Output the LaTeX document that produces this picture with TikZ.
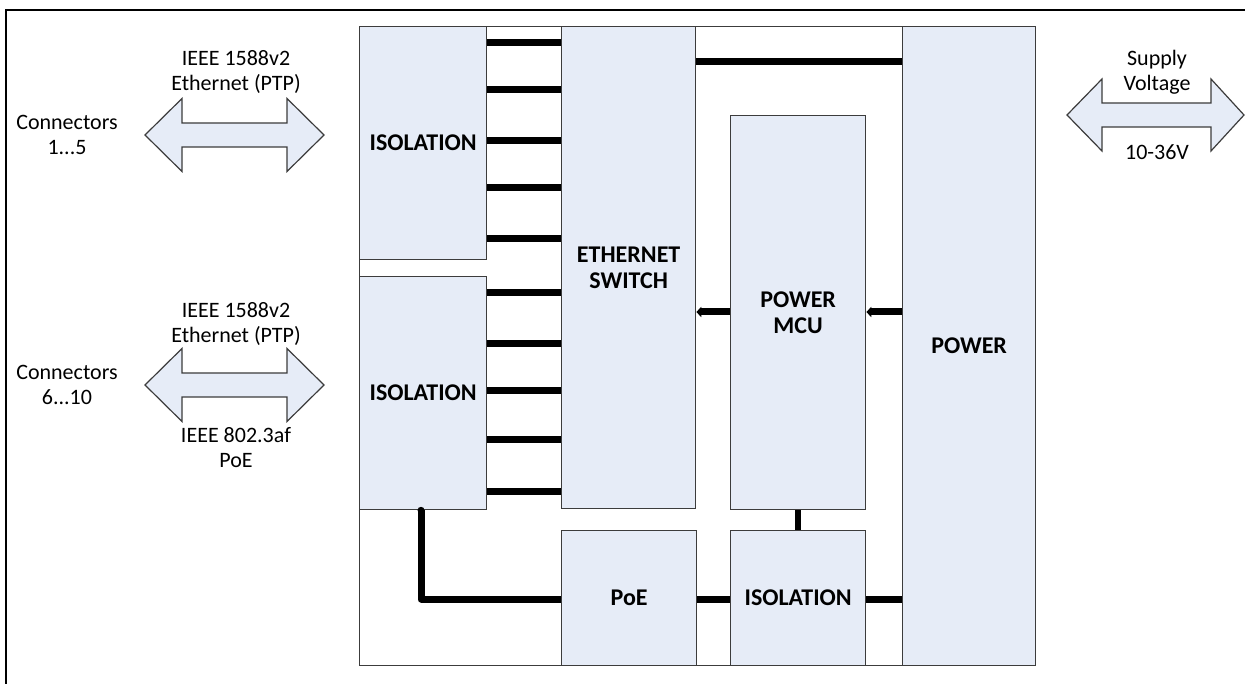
\documentclass[tikz,border=0pt]{standalone}
\usepackage{fontspec}
\setmainfont{Carlito}
\usetikzlibrary{arrows.meta}
\definecolor{boxfill}{HTML}{E6ECF7}
\definecolor{boxline}{HTML}{3C3C3C}
\begin{document}
\begin{tikzpicture}[x=1pt,y=-1pt,
  blk/.style={draw=boxline, line width=1.3pt, fill=boxfill, anchor=north west, inner sep=0pt,
    font=\fontsize{24}{26}\selectfont\bfseries, align=center, text=black},
  bus/.style={line width=7pt, black},
  lbl/.style={font=\fontsize{22}{25}\selectfont, align=center, text=black},
  arrowshape/.style={draw=boxline, line width=1.2pt, fill=boxfill, line join=miter}
]
\useasboundingbox (0,0) rectangle (1245,684);
\fill[white] (0,0) rectangle (1245,684);
% outer frame
\draw[black, line width=1.3pt] (6,684) -- (6,10) -- (1245,10);
% main frame
\node[draw=boxline, line width=1.3pt, fill=white, minimum width=676pt, minimum height=639pt, anchor=north west, inner sep=0pt] (main) at (359,26) {};
% blocks
\node[blk, minimum width=127pt, minimum height=233pt] (iso1) at (359,26) {ISOLATION};
\node[blk, minimum width=127pt, minimum height=233pt] (iso2) at (359,276) {ISOLATION};
\node[blk, minimum width=134pt, minimum height=482pt] (sw) at (561,26) {ETHERNET\\SWITCH};
\node[blk, minimum width=135pt, minimum height=394pt] (mcu) at (730,115) {POWER\\MCU};
\node[blk, minimum width=133pt, minimum height=639pt] (pwr) at (902,26) {POWER};
\node[blk, minimum width=135pt, minimum height=135pt] (poe) at (561,530) {PoE};
\node[blk, minimum width=135pt, minimum height=135pt] (iso3) at (730,530) {ISOLATION};
% buses
\foreach \y in {43,90,141,188,239} \draw[bus] (iso1.east |- 0,\y) -- (sw.west |- 0,\y);
\foreach \y in {293,344,391,439,491} \draw[bus] (iso2.east |- 0,\y) -- (sw.west |- 0,\y);
\draw[bus] (sw.east |- 0,62) -- (pwr.west |- 0,62);
\draw[bus, -{Triangle[length=5pt,width=10pt]}] (mcu.west |- 0,312) -- (sw.east |- 0,312);
\draw[bus, -{Triangle[length=5pt,width=10pt]}] (pwr.west |- 0,312) -- (mcu.east |- 0,312);
\draw[bus, line join=round] (iso2.south -| 421,0) |- (poe.west |- 0,599);
\fill[black] (iso2.south -| 421,0) circle (3.5pt);
\draw[bus] (poe.east |- 0,599) -- (iso3.west |- 0,599);
\draw[bus] (iso3.east |- 0,599) -- (pwr.west |- 0,599);
\draw[line width=6pt, black] (mcu.south) -- (iso3.north);
% double arrows
\draw[arrowshape] (145,135) -- (182,98.5) -- (182,123) -- (287,123) -- (287,98.5) -- (324,135)
  -- (287,171.5) -- (287,147) -- (182,147) -- (182,171.5) -- cycle;
\draw[arrowshape] (145,385) -- (182,348.5) -- (182,373) -- (287,373) -- (287,348.5) -- (324,385)
  -- (287,421.5) -- (287,397) -- (182,397) -- (182,421.5) -- cycle;
\draw[arrowshape] (1067,115) -- (1102,79) -- (1102,103) -- (1211,103) -- (1211,79) -- (1244,115)
  -- (1211,151) -- (1211,127) -- (1102,127) -- (1102,151) -- cycle;
% labels
\node[lbl] (t1) at (236,72) {IEEE 1588v2\\Ethernet (PTP)};
\node[lbl] (c1) at (67,135) {Connectors\\1...5};
\node[lbl] (t2) at (236,324) {IEEE 1588v2\\Ethernet (PTP)};
\node[lbl] (c2) at (67,385) {Connectors\\6...10};
\node[lbl] (t3) at (236,448) {IEEE 802.3af\\PoE};
\node[lbl] (s1) at (1157,72) {Supply\\Voltage};
\node[lbl] (s2) at (1157,152) {10-36V};
\end{tikzpicture}
\end{document}
